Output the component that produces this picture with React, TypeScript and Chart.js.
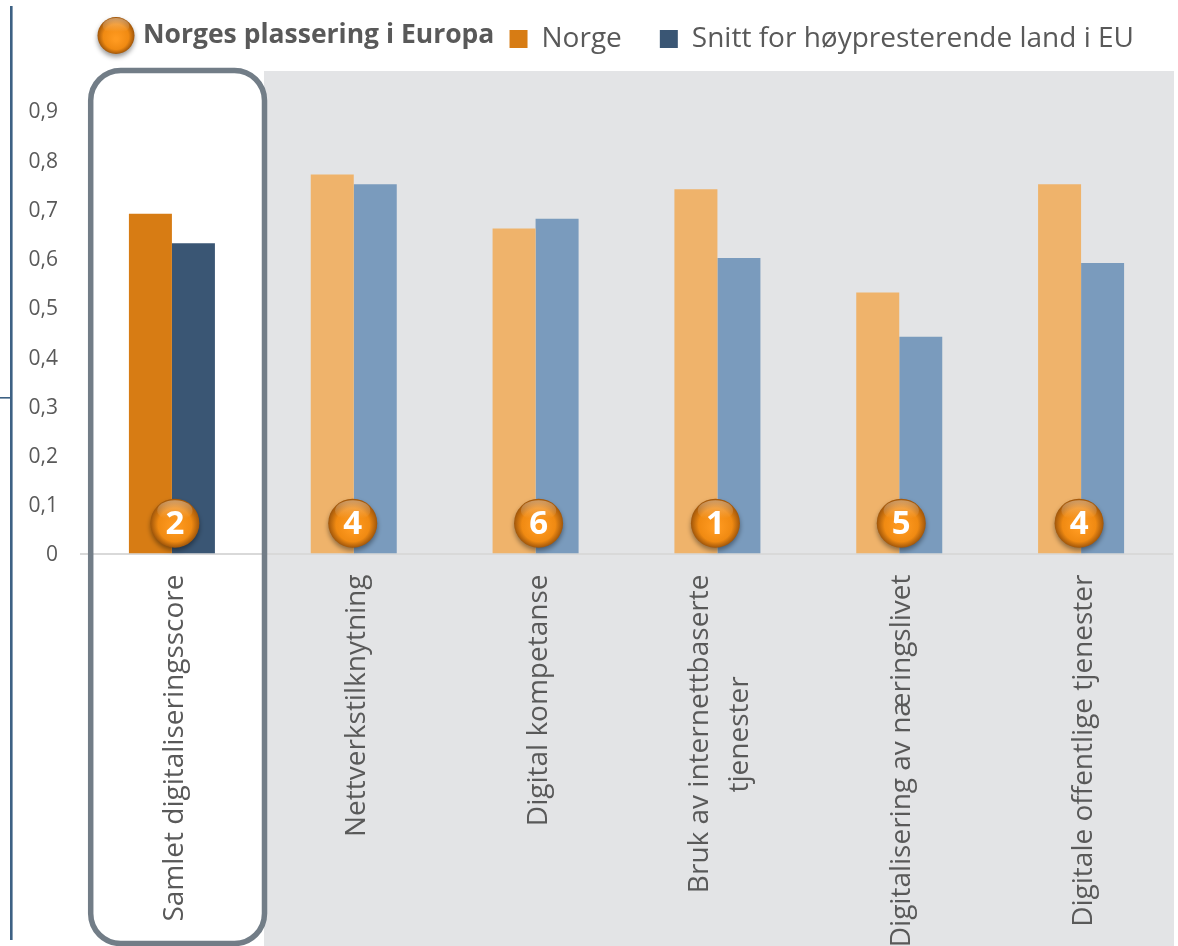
import React, { useEffect, useRef } from "react";
import { Chart, registerables } from "chart.js";

Chart.register(...registerables);

const NBSP = "\u00A0";
const categories = [
  "Samlet digitaliseringsscore",
  "Nettverkstilknytning",
  "Digital kompetanse",
  ["Bruk av internettbaserte", "tjenester" + NBSP.repeat(14)],
  "Digitalisering av næringslivet",
  "Digitale offentlige tjenester",
];
const norge = [0.69, 0.77, 0.66, 0.74, 0.53, 0.75];
const snitt = [0.63, 0.75, 0.68, 0.6, 0.44, 0.59];
const ranks = ["2", "4", "6", "1", "5", "4"];
const norgeColors = ["#D77C14", "#EFB36B", "#EFB36B", "#EFB36B", "#EFB36B", "#EFB36B"];
const snittColors = ["#3A5674", "#7A9BBD", "#7A9BBD", "#7A9BBD", "#7A9BBD", "#7A9BBD"];
const titleText = "Norges plassering i Europa";
const FONT = '"Open Sans", sans-serif';

function sphere(ctx: CanvasRenderingContext2D, x: number, y: number, r: number) {
  ctx.save();
  ctx.shadowColor = "rgba(0,0,0,0.4)";
  ctx.shadowBlur = 5;
  ctx.shadowOffsetY = 3;
  const g = ctx.createRadialGradient(x, y + r * 0.2, r * 0.1, x, y, r);
  g.addColorStop(0, "#FF9A20");
  g.addColorStop(0.65, "#F08A12");
  g.addColorStop(1, "#A0560A");
  ctx.fillStyle = g;
  ctx.beginPath();
  ctx.arc(x, y, r, 0, Math.PI * 2);
  ctx.fill();
  ctx.restore();
  ctx.save();
  const h = ctx.createLinearGradient(x, y - r, x, y - r * 0.2);
  h.addColorStop(0, "rgba(255,255,255,0.4)");
  h.addColorStop(1, "rgba(255,255,255,0)");
  ctx.fillStyle = h;
  ctx.beginPath();
  ctx.ellipse(x, y - r * 0.52, r * 0.72, r * 0.42, 0, 0, Math.PI * 2);
  ctx.fill();
  ctx.restore();
}

function shiftLabels(scale: any, dx: (it: any) => number, dy: number) {
  if (scale.__wrapped) return;
  scale.__wrapped = true;
  const orig = scale._computeLabelItems;
  scale._computeLabelItems = function (area: any) {
    const items = orig.call(this, area);
    items.forEach((it: any) => {
      it.options.translation[0] += dx(it);
      it.options.translation[1] += dy;
    });
    return items;
  };
  scale._labelItems = null;
}

const decor = {
  id: "decor",
  afterLayout(chart: any) {
    if (chart.legend) {
      chart.legend.top = -13;
      chart.legend.right = 1172;
    }
    shiftLabels(chart.scales.x, (it) => (Array.isArray(it.label) ? -17 : 3), 0);
    shiftLabels(chart.scales.y, () => 0, 2);
  },
  beforeDraw(chart: any) {
    const { ctx, chartArea: a } = chart;
    ctx.save();
    ctx.fillStyle = "#E3E4E6";
    ctx.fillRect(264, a.top, a.right + 2 - 264, chart.height - a.top);
    ctx.fillStyle = "#3D6184";
    ctx.fillRect(10, 6, 2.6, 934);
    ctx.fillRect(0, 397, 11, 1.6);
    ctx.restore();
  },
  afterDraw(chart: any) {
    const { ctx, chartArea: a, scales } = chart;
    ctx.save();
    ctx.strokeStyle = "#727D87";
    ctx.lineWidth = 5.5;
    ctx.beginPath();
    ctx.roundRect(90.7, a.top - 0.5, 173.8, 944 - a.top, 30);
    ctx.stroke();
    ctx.restore();

    sphere(ctx, 116, 35.5, 18.5);
    ctx.save();
    ctx.fillStyle = "#595959";
    ctx.font = `bold 26.5px ${FONT}`;
    ctx.textBaseline = "middle";
    ctx.fillText(titleText, 143, 35);
    ctx.restore();

    const nudge = [3, -1, 3, -2, 2, -2];
    ranks.forEach((rank, i) => {
      const x = scales.x.getPixelForValue(i) + nudge[i];
      const y = scales.y.getPixelForValue(0.0615);
      sphere(ctx, x, y, 24.5);
      ctx.save();
      ctx.fillStyle = "#FFFFFF";
      ctx.font = `bold 33px ${FONT}`;
      ctx.textAlign = "center";
      ctx.textBaseline = "middle";
      ctx.fillText(rank, x, y + 1);
      ctx.restore();
    });
  },
};

export default function App() {
  const ref = useRef<HTMLCanvasElement>(null);
  useEffect(() => {
    const chart = new Chart(ref.current!, {
      type: "bar",
      data: {
        labels: categories as any,
        datasets: [
          { label: "Norge", data: norge, backgroundColor: norgeColors, barPercentage: 1, categoryPercentage: 0.473 },
          { label: "Snitt for høypresterende land i EU", data: snitt, backgroundColor: snittColors, barPercentage: 1, categoryPercentage: 0.473 },
        ],
      },
      options: {
        responsive: false,
        animation: false,
        layout: { padding: { left: 0, right: 6, top: 0, bottom: 0 } },
        plugins: {
          tooltip: { enabled: false },
          legend: {
            position: "top",
            align: "end",
            maxHeight: 71,
            labels: {
              boxWidth: 18,
              boxHeight: 18,
              padding: 38,
              color: "#595959",
              font: { family: FONT, size: 28 },
              generateLabels: () => [
                { text: "Norge", fillStyle: norgeColors[0], strokeStyle: norgeColors[0], lineWidth: 0, datasetIndex: 0, fontColor: "#595959" },
                { text: "Snitt for høypresterende land i EU", fillStyle: snittColors[0], strokeStyle: snittColors[0], lineWidth: 0, datasetIndex: 1, fontColor: "#595959" },
              ],
            },
          },
        },
        scales: {
          x: {
            afterFit: (s: any) => { s.height = 392.5; },
            grid: { display: false, drawTicks: false },
            border: { color: "#D9D9D9", width: 2 },
            ticks: {
              autoSkip: false,
              minRotation: 90,
              maxRotation: 90,
              padding: 21,
              color: "#595959",
              font: { family: FONT, size: 28, lineHeight: 1.43 },
            },
          },
          y: {
            min: 0,
            max: 0.98,
            afterFit: (s: any) => { s.width = 81; },
            grid: { display: false, drawTicks: false },
            border: { display: false },
            ticks: {
              stepSize: 0.1,
              includeBounds: false,
              padding: 23,
              color: "#595959",
              font: { family: FONT, size: 21 },
              callback: (v: any) => String(Math.round(Number(v) * 10) / 10).replace(".", ","),
            },
          },
        },
      },
      plugins: [decor],
    } as any);
    return () => chart.destroy();
  }, []);
  return (
    <div style={{ position: "absolute", left: 0, top: 0, width: 1178, height: 946, overflow: "hidden", background: "#fff" }}>
      <canvas ref={ref} width={1178} height={946} style={{ display: "block" }} />
    </div>
  );
}
